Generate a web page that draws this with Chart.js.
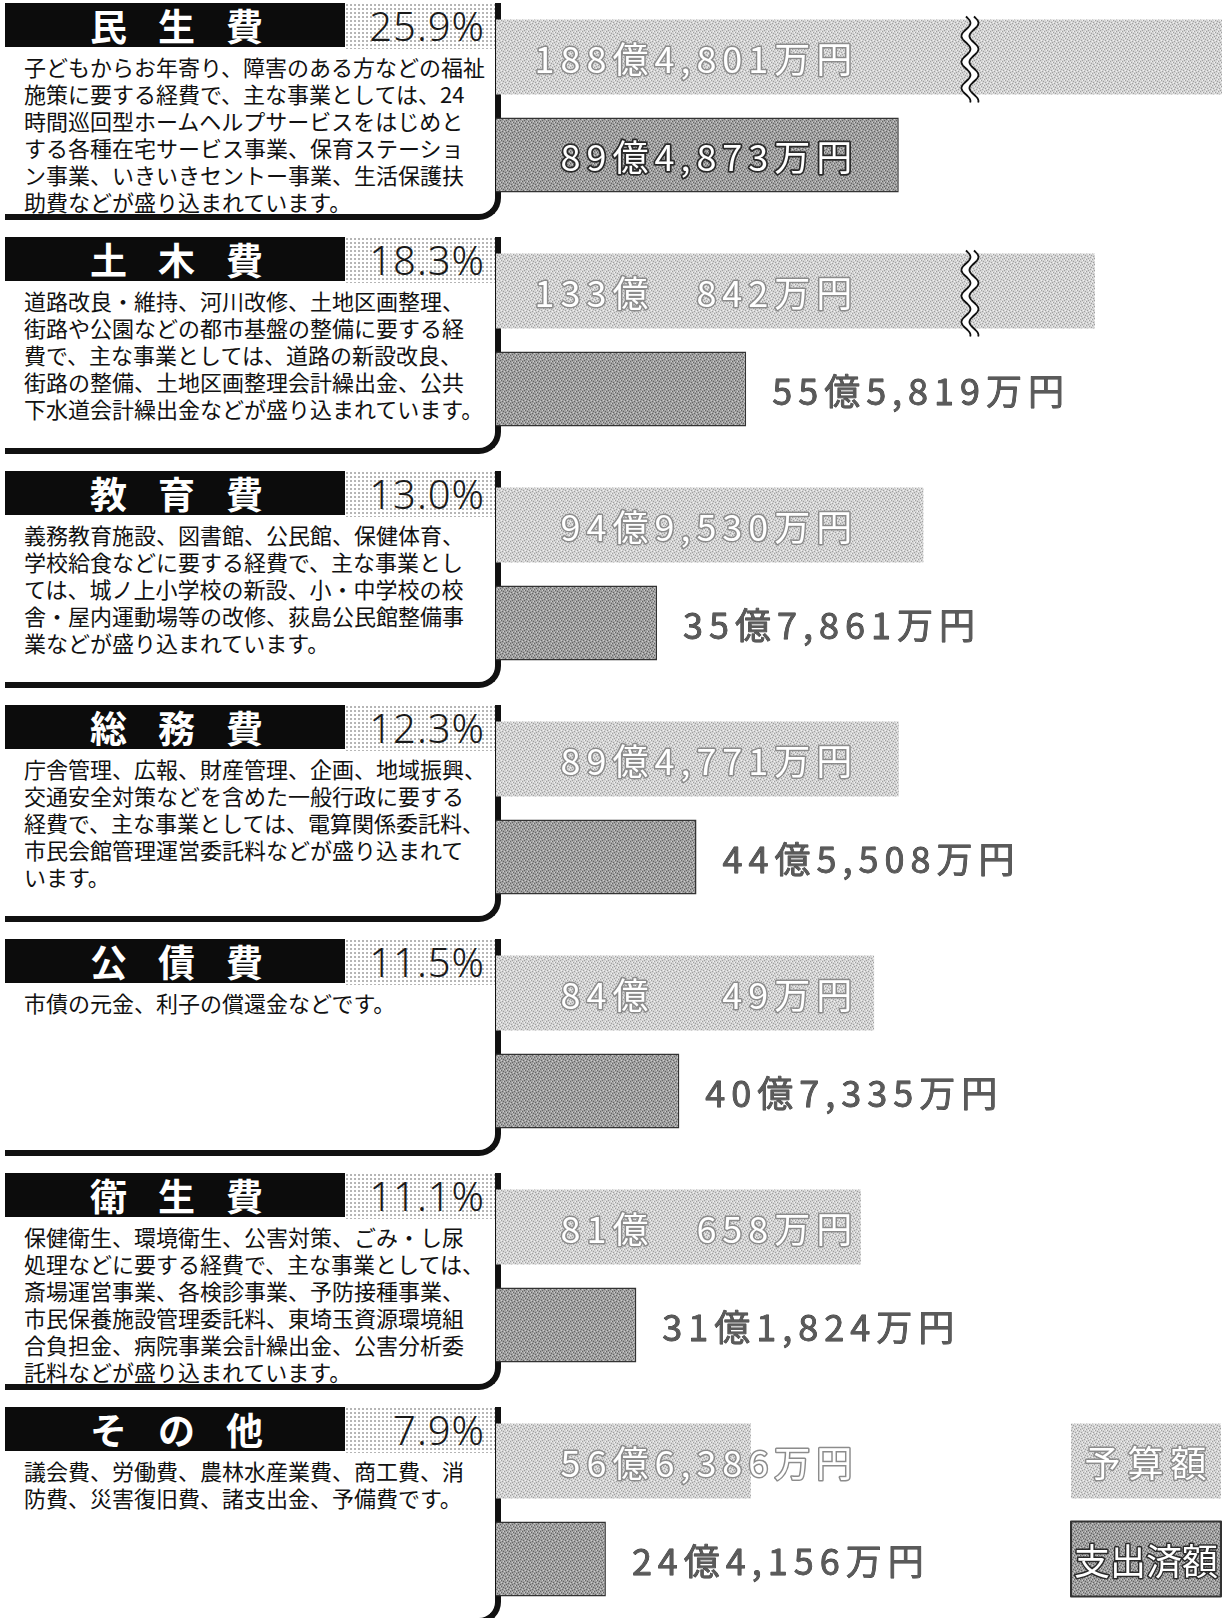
<!DOCTYPE html>
<html lang="ja">
  <head>
    <meta charset="utf-8" />
    <script src="https://cdn.jsdelivr.net/npm/chart.js"></script>
    <style>
      html,
      body {
        margin: 0;
        padding: 0;
        background: #fff;
        overflow: hidden;
      }

      body {
        position: relative;
        width: 1222px;
        height: 1618px;
        font-family: "Noto Sans CJK JP", sans-serif;
      }

      #chart {
        position: absolute;
        left: 0;
        top: -11px;
        z-index: 2;
      }

      .panel {
        position: absolute;
        left: 5px;
        width: 496px;
        height: 217px;
        box-sizing: border-box;
        border-right: 6px solid #111;
        border-bottom: 6px solid #111;
        border-bottom-right-radius: 22px;
        z-index: 1;
      }

      .head {
        position: absolute;
        left: 0;
        top: 0;
        width: 340px;
        height: 44px;
        box-sizing: border-box;
        padding-left: 34px;
        background: #0c0c0c;
        color: #fff;
        font-size: 37px;
        font-weight: bold;
        line-height: 44px;
        letter-spacing: 31px;
        text-align: center;
        white-space: nowrap;
      }

      .pct {
        position: absolute;
        left: 340px;
        top: 0;
        width: 150px;
        height: 46px;
        box-sizing: border-box;
        padding-right: 10px;
        color: #1a1a1a;
        font-family: "Noto Sans", "DejaVu Sans", sans-serif;
        font-size: 40px;
        font-weight: 300;
        line-height: 46px;
        letter-spacing: 1px;
        text-align: right;
        background-image: radial-gradient(circle, #b4b4b4 0.7px, transparent 1.1px);
        background-size: 4px 4px;
      }

      .desc {
        position: absolute;
        left: 19px;
        top: 50px;
        color: #111;
        font-size: 22px;
        line-height: 27px;
        white-space: nowrap;
      }
    </style>
    <title>歳出の内訳</title>
  </head>

  <body>
    <div id="panels"></div>
    <canvas id="chart" width="1222" height="1638"></canvas>

    <script>
      // 単位：億円
      const categories = ["民生費", "土木費", "教育費", "総務費", "公債費", "衛生費", "その他"];
      const shares = [25.9, 18.3, 13.0, 12.3, 11.5, 11.1, 7.9];
      const budget = [188.4801, 133.0842, 94.953, 89.4771, 84.0049, 81.0658, 56.6386];
      const spent = [89.4873, 55.5819, 35.7861, 44.5508, 40.7335, 31.1824, 24.4156];
      const seriesNames = ["予算額", "支出済額"];

      const notes = [
        [
          "子どもからお年寄り、障害のある方などの福祉",
          "施策に要する経費で、主な事業としては、24",
          "時間巡回型ホームヘルプサービスをはじめと",
          "する各種在宅サービス事業、保育ステーショ",
          "ン事業、いきいきセントー事業、生活保護扶",
          "助費などが盛り込まれています。",
        ],
        [
          "道路改良・維持、河川改修、土地区画整理、",
          "街路や公園などの都市基盤の整備に要する経",
          "費で、主な事業としては、道路の新設改良、",
          "街路の整備、土地区画整理会計繰出金、公共",
          "下水道会計繰出金などが盛り込まれています。",
        ],
        [
          "義務教育施設、図書館、公民館、保健体育、",
          "学校給食などに要する経費で、主な事業とし",
          "ては、城ノ上小学校の新設、小・中学校の校",
          "舎・屋内運動場等の改修、荻島公民館整備事",
          "業などが盛り込まれています。",
        ],
        [
          "庁舎管理、広報、財産管理、企画、地域振興、",
          "交通安全対策などを含めた一般行政に要する",
          "経費で、主な事業としては、電算関係委託料、",
          "市民会館管理運営委託料などが盛り込まれて",
          "います。",
        ],
        ["市債の元金、利子の償還金などです。"],
        [
          "保健衛生、環境衛生、公害対策、ごみ・し尿",
          "処理などに要する経費で、主な事業としては、",
          "斎場運営事業、各検診事業、予防接種事業、",
          "市民保養施設管理委託料、東埼玉資源環境組",
          "合負担金、病院事業会計繰出金、公害分析委",
          "託料などが盛り込まれています。",
        ],
        [
          "議会費、労働費、農林水産業費、商工費、消",
          "防費、災害復旧費、諸支出金、予備費です。",
        ],
      ];

      const AXIS_MAX = 161.3; // 右端の目盛り
      const BREAK_AT = 105.3; // 省略記号を入れる位置
      const LABEL_END = 80.5; // 金額ラベルの右揃え位置

      // 網点風のパターン
      const ctx = document.getElementById("chart").getContext("2d");
      function halftone(base, ink, paper) {
        const tile = document.createElement("canvas");
        tile.width = 6;
        tile.height = 6;
        const g = tile.getContext("2d");
        g.fillStyle = base;
        g.fillRect(0, 0, 6, 6);
        g.fillStyle = ink;
        [[0, 0], [3, 1], [1, 3], [4, 4], [2, 5], [5, 2]].forEach(([x, y]) => g.fillRect(x, y, 1, 1));
        g.fillStyle = paper;
        [[2, 1], [5, 0], [0, 4], [3, 3]].forEach(([x, y]) => g.fillRect(x, y, 1, 1));
        return ctx.createPattern(tile, "repeat");
      }
      const budgetFill = halftone("#d4d4d4", "#a0a0a0", "#f2f2f2");
      const spentFill = halftone("#a0a0a0", "#646464", "#cdcdcd");

      // 188.4801 -> "188億4,801万円"、千万の位が無いときは空ける
      function yenLabel(v) {
        const oku = Math.floor(v + 1e-9);
        const man = Math.round((v - oku) * 10000);
        let manStr = man.toLocaleString("en-US");
        if (man < 1000) {
          manStr = "\u2007".repeat(4 - String(man).length) + "\u2008" + manStr;
        }
        return oku + "億" + manStr + "万円";
      }

      function outlinedText(c, text, x, y, stroke, fill, width) {
        c.lineJoin = "round";
        c.lineWidth = width;
        c.strokeStyle = stroke;
        c.strokeText(text, x, y);
        c.fillStyle = fill;
        c.fillText(text, x, y);
      }

      // 波線の省略記号
      function wavePath(x0, top, bottom, back) {
        const amp = 4.5;
        const period = 26;
        const pts = [];
        for (let y = top; y <= bottom; y += 1) {
          pts.push([x0 + amp * Math.sin(((y - top) / period) * 2 * Math.PI), y]);
        }
        if (back) pts.reverse();
        return pts;
      }

      const breakMarks = {
        id: "breakMarks",
        afterDatasetsDraw(chart) {
          const c = chart.ctx;
          const bx = chart.scales.x.getPixelForValue(BREAK_AT);
          const meta = chart.getDatasetMeta(0);
          c.save();
          meta.data.forEach((bar, i) => {
            if (chart.data.datasets[0].data[i] <= BREAK_AT) return;
            const { y, height } = bar.getProps(["y", "height"], true);
            const top = y - height / 2 - 3;
            const bottom = y + height / 2 + 9;
            const left = wavePath(bx - 4, top, bottom, false);
            const right = wavePath(bx + 4, top, bottom, true);
            c.beginPath();
            left.concat(right).forEach(([px, py], k) => (k ? c.lineTo(px, py) : c.moveTo(px, py)));
            c.closePath();
            c.fillStyle = "#fff";
            c.fill();
            c.lineWidth = 1.8;
            c.strokeStyle = "#111";
            [left, right].forEach((pts) => {
              c.beginPath();
              pts.forEach(([px, py], k) => (k ? c.lineTo(px, py) : c.moveTo(px, py)));
              c.stroke();
            });
          });
          c.restore();
        },
      };

      const valueLabels = {
        id: "valueLabels",
        afterDatasetsDraw(chart) {
          const c = chart.ctx;
          const end = chart.scales.x.getPixelForValue(LABEL_END);
          c.save();
          c.font = '36px "Noto Sans CJK JP"';
          c.letterSpacing = "6px";
          c.textBaseline = "middle";
          chart.data.datasets.forEach((ds, di) => {
            chart.getDatasetMeta(di).data.forEach((bar, i) => {
              const { x, y, base } = bar.getProps(["x", "y", "base"], true);
              const text = yenLabel(ds.data[i]);
              const w = c.measureText(text).width;
              if (di === 0) {
                c.textAlign = "right";
                outlinedText(c, text, end, y + 2, "#8c8c8c", "#fff", 3);
              } else if (w + 40 < x - base) {
                c.textAlign = "right";
                outlinedText(c, text, end, y + 2, "#2a2a2a", "#fff", 3.5);
              } else {
                c.textAlign = "left";
                outlinedText(c, text, x + 26, y + 2, "#333", "#5a5a5a", 0.8);
              }
            });
          });
          c.restore();
        },
      };

      // 凡例は最後の行の棒と同じ高さに置く
      const sideLegend = {
        id: "sideLegend",
        afterDatasetsDraw(chart) {
          const c = chart.ctx;
          const last = chart.data.labels.length - 1;
          const w = 150;
          const x = chart.chartArea.right - w - 1;
          c.save();
          c.font = '36px "Noto Sans CJK JP"';
          c.textAlign = "center";
          c.textBaseline = "middle";
          chart.data.datasets.forEach((ds, di) => {
            const { y, height } = chart.getDatasetMeta(di).data[last].getProps(["y", "height"], true);
            c.fillStyle = ds.backgroundColor;
            c.fillRect(x, y - height / 2, w, height);
            if (ds.borderWidth) {
              c.lineWidth = 2;
              c.strokeStyle = ds.borderColor;
              c.strokeRect(x, y - height / 2, w, height);
            }
            c.letterSpacing = di === 0 ? "7px" : "0px";
            outlinedText(c, ds.label, x + w / 2 + (di === 0 ? 3 : 0), y + 2,
              di === 0 ? "#8c8c8c" : "#2a2a2a", "#fff", 3);
          });
          c.restore();
        },
      };

      const chart = new Chart(ctx, {
        type: "bar",
        plugins: [breakMarks, valueLabels, sideLegend],
        data: {
          labels: categories,
          datasets: [
            {
              label: seriesNames[0],
              data: budget,
              backgroundColor: budgetFill,
              borderWidth: 0,
              categoryPercentage: 0.8376,
              barPercentage: 0.765,
            },
            {
              label: seriesNames[1],
              data: spent,
              backgroundColor: spentFill,
              borderColor: "#333",
              borderWidth: 1.5,
              borderSkipped: "start",
              categoryPercentage: 0.8376,
              barPercentage: 0.765,
            },
          ],
        },
        options: {
          indexAxis: "y",
          responsive: false,
          animation: false,
          devicePixelRatio: 1,
          layout: { padding: { left: 496, right: 0, top: 0, bottom: 0 } },
          scales: {
            x: { min: 0, max: AXIS_MAX, display: false },
            y: { display: false },
          },
          plugins: {
            legend: { display: false },
            tooltip: { enabled: false },
          },
        },
      });

      // 左側の説明欄
      const panels = document.getElementById("panels");
      const yScale = chart.scales.y;
      const band = (yScale.bottom - yScale.top) / categories.length;
      const canvasTop = parseFloat(getComputedStyle(document.getElementById("chart")).top);
      categories.forEach((name, i) => {
        const panel = document.createElement("div");
        panel.className = "panel";
        panel.style.top = canvasTop + yScale.getPixelForValue(i) - band / 2 + 14 + "px";

        const head = document.createElement("div");
        head.className = "head";
        head.textContent = name;
        panel.appendChild(head);

        const pct = document.createElement("div");
        pct.className = "pct";
        pct.textContent = shares[i].toFixed(1) + "%";
        panel.appendChild(pct);

        const desc = document.createElement("div");
        desc.className = "desc";
        desc.innerHTML = notes[i].join("<br>");
        panel.appendChild(desc);

        panels.appendChild(panel);
      });
    </script>
  </body>
</html>
